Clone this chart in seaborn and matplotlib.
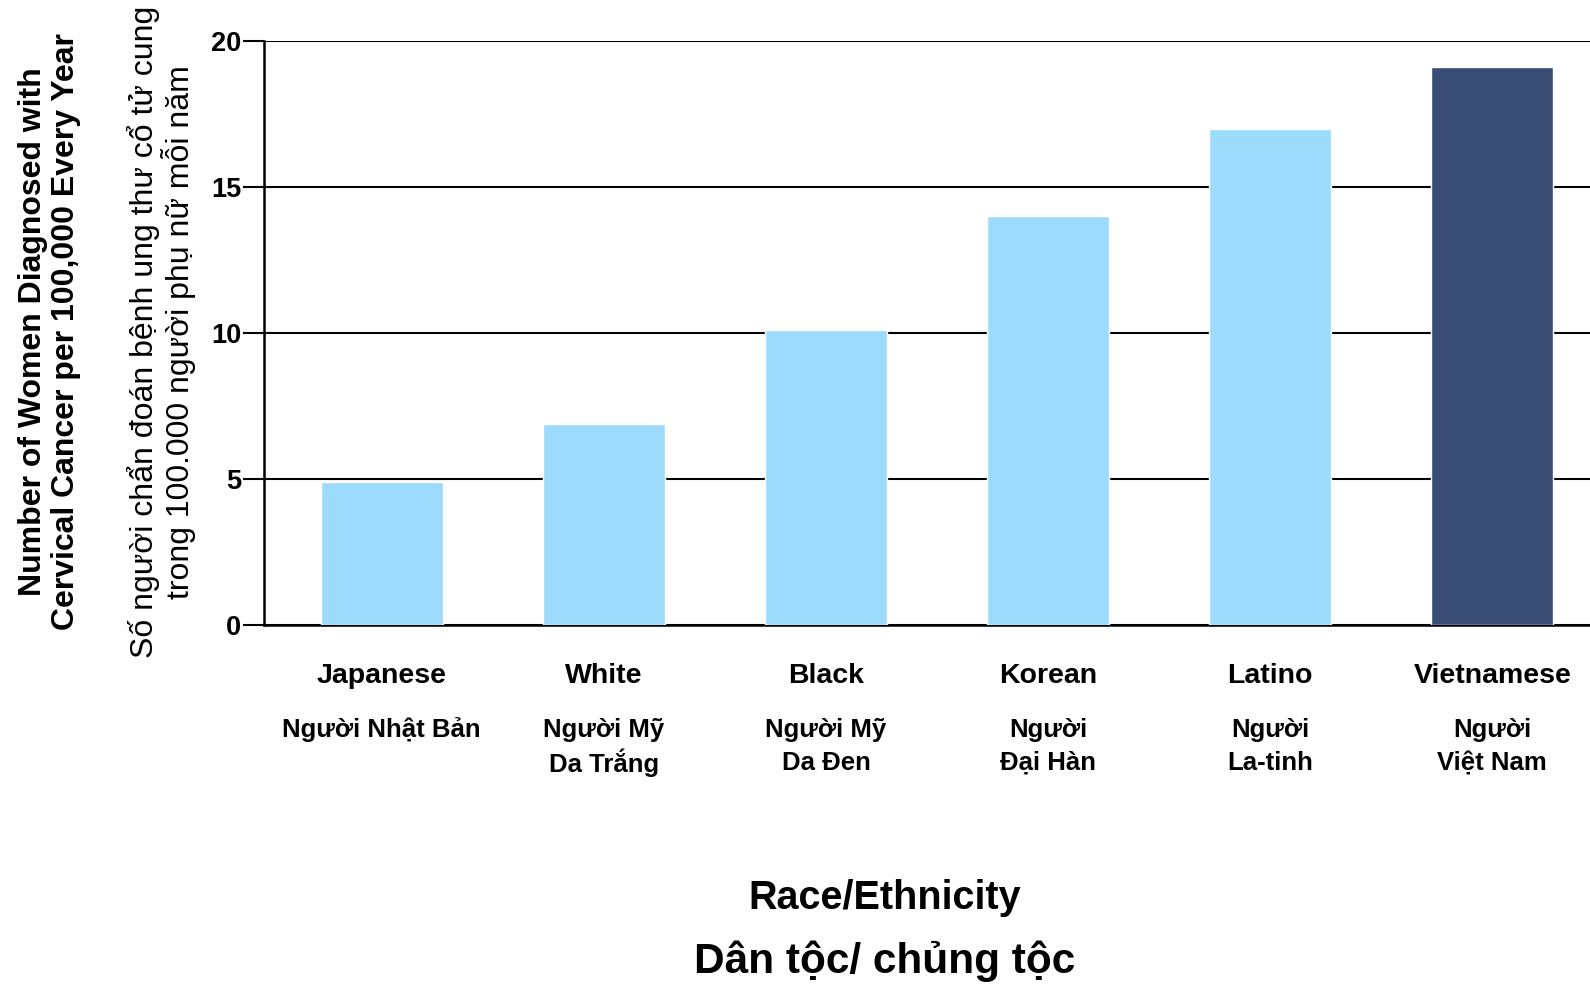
import matplotlib
matplotlib.use('Agg')
import matplotlib.pyplot as plt
import seaborn as sns

# data
groups_en = ['Japanese', 'White', 'Black', 'Korean', 'Latino', 'Vietnamese']
groups_vi = [['Người Nhật Bản'], ['Người Mỹ', 'Da Trắng'], ['Người Mỹ', 'Da Đen'],
             ['Người', 'Đại Hàn'], ['Người', 'La-tinh'], ['Người', 'Việt Nam']]
rates = [4.9, 6.9, 10.1, 14.0, 17.0, 19.1]
bar_colors = ['#9DDBFD'] * 5 + ['#394C74']
yticks = [0, 5, 10, 15, 20]

sns.set_style('white')
plt.rcParams['font.family'] = ['Liberation Sans', 'DejaVu Sans']
plt.rcParams['text.color'] = 'black'
plt.rcParams['xtick.color'] = 'black'
plt.rcParams['ytick.color'] = 'black'

fig = plt.figure(figsize=(15.9, 9.85), dpi=100)
ax = fig.add_axes([264 / 1590, 1 - 625 / 985, 1 - 264 / 1590, (625 - 41) / 985])

sns.barplot(x=groups_en, y=rates, hue=groups_en, palette=bar_colors,
            legend=False, width=0.55, saturation=1, ax=ax, zorder=3)

ax.set_xlim(-0.53, 5.44)
ax.set_ylim(0, 20)
ax.set_yticks(yticks)
ax.set_yticklabels([str(t) for t in yticks], fontsize=19.5, fontweight='bold')
ax.tick_params(axis='y', left=True, length=15, width=1.5, pad=1.5, color='black', labelcolor='black')
ax.set_xticks([])
ax.yaxis.grid(True, color='black', linewidth=1.5, zorder=1)
ax.set_axisbelow(True)
for s in ['top', 'right']:
    ax.spines[s].set_visible(False)
for s in ['left', 'bottom']:
    ax.spines[s].set_color('black')
    ax.spines[s].set_linewidth(1.8)

# category labels below the axis
trans = ax.get_xaxis_transform()
h = 625 - 41
def yfrac(px):
    return (625 - px) / h

for i, (en, vi) in enumerate(zip(groups_en, groups_vi)):
    ax.text(i, yfrac(676), en, transform=trans, ha='center', va='center',
            fontsize=20.5, fontweight='bold', clip_on=False)
    for j, line in enumerate(vi):
        ax.text(i, yfrac(730 + 33 * j), line, transform=trans, ha='center', va='center',
                fontsize=18.5, fontweight='bold', clip_on=False)

# y-axis titles
yc = 1 - 332 / 985
fig.text(33 / 1590, yc, 'Number of Women Diagnosed with', rotation=90, ha='center', va='center',
         fontsize=23, fontweight='bold')
fig.text(66 / 1590, yc, 'Cervical Cancer per 100,000 Every Year', rotation=90, ha='center', va='center',
         fontsize=23, fontweight='bold')
fig.text(144 / 1590, yc, 'Số người chẩn đoán bệnh ung thư cổ tử cung', rotation=90, ha='center', va='center',
         fontsize=23)
fig.text(179 / 1590, yc, 'trong 100.000 người phụ nữ mỗi năm', rotation=90, ha='center', va='center',
         fontsize=23)

# x-axis titles
fig.text(885 / 1590, 1 - 898 / 985, 'Race/Ethnicity', ha='center', va='center',
         fontsize=28.5, fontweight='bold')
fig.text(885 / 1590, 1 - 961 / 985, 'Dân tộc/ chủng tộc', ha='center', va='center',
         fontsize=30.5, fontweight='bold')

fig.savefig('out.png', dpi=100, facecolor='white')
